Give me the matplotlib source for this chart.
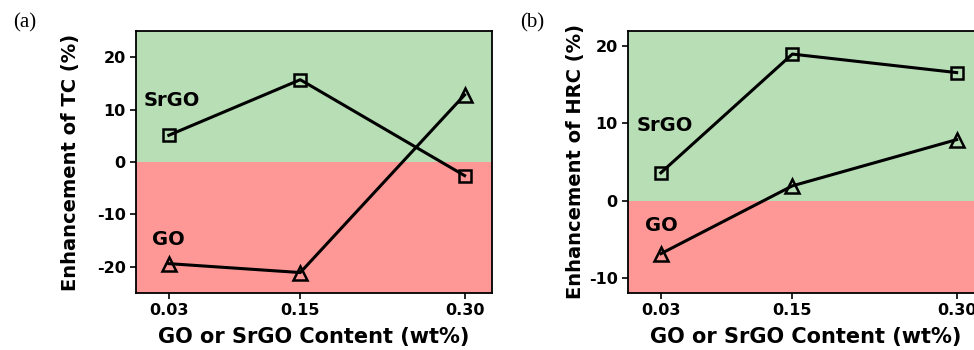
import matplotlib.pyplot as plt

plt.rcParams['font.family'] = 'DejaVu Sans'
plt.rcParams['font.weight'] = 'bold'
plt.rcParams['axes.unicode_minus'] = False

# GO / SrGO content (wt%)
content = [0.03, 0.15, 0.30]

# (a) thermal conductivity enhancement (%)
tc_srgo = [5.1, 15.7, -2.6]
tc_go = [-19.4, -21.1, 12.8]

# (b) HRC enhancement (%)
hrc_srgo = [3.6, 19.0, 16.6]
hrc_go = [-6.9, 1.9, 7.9]

green = '#b8deb6'
red = '#fe9896'

fig = plt.figure(figsize=(9.74, 3.5), dpi=100)
ax1 = fig.add_axes([0.1396, 0.1629, 0.3655, 0.7486])
ax2 = fig.add_axes([0.6448, 0.1629, 0.3655, 0.7486])


def draw(ax, srgo, go, ylim, yticks, ylabel, ypad, srgo_pos, go_pos):
    ax.axhspan(0, ylim[1], color=green, zorder=0, lw=0)
    ax.axhspan(ylim[0], 0, color=red, zorder=0, lw=0)
    ax.plot(content, srgo, color='black', lw=2.2, marker='s', ms=8,
            mfc='none', mec='black', mew=1.8, zorder=3)
    ax.plot(content, go, color='black', lw=2.2, marker='^', ms=9.5,
            mfc='none', mec='black', mew=1.8, zorder=3)
    ax.set_xlim(0, 0.325)
    ax.set_ylim(*ylim)
    ax.set_xticks(content)
    ax.set_xticklabels(['0.03', '0.15', '0.30'])
    ax.set_yticks(yticks)
    ax.tick_params(direction='out', length=4, width=1.2, labelsize=11.5,
                   top=False, right=False)
    for s in ax.spines.values():
        s.set_linewidth(1.3)
    ax.set_xlabel('GO or SrGO Content (wt%)', fontsize=15, fontweight='bold',
                  labelpad=6)
    ax.set_ylabel(ylabel, fontsize=14, fontweight='bold', labelpad=ypad)
    ax.text(srgo_pos[0], srgo_pos[1], 'SrGO', fontsize=14, fontweight='bold',
            va='center', ha='left')
    ax.text(go_pos[0], go_pos[1], 'GO', fontsize=14, fontweight='bold',
            va='center', ha='left')


draw(ax1, tc_srgo, tc_go, (-25, 25), [-20, -10, 0, 10, 20],
     'Enhancement of TC (%)', 12, (0.007, 11.8), (0.0146, -14.7))
draw(ax2, hrc_srgo, hrc_go, (-12, 22), [-10, 0, 10, 20],
     'Enhancement of HRC (%)', 3, (0.008, 9.7), (0.0156, -3.25))

fig.text(13 / 974, 1 - 23 / 350, '(a)', family='Liberation Serif',
         fontsize=15, fontweight='normal', va='center', ha='left')
fig.text(520 / 974, 1 - 23 / 350, '(b)', family='Liberation Serif',
         fontsize=15, fontweight='normal', va='center', ha='left')

fig.savefig('out.png', dpi=100)
